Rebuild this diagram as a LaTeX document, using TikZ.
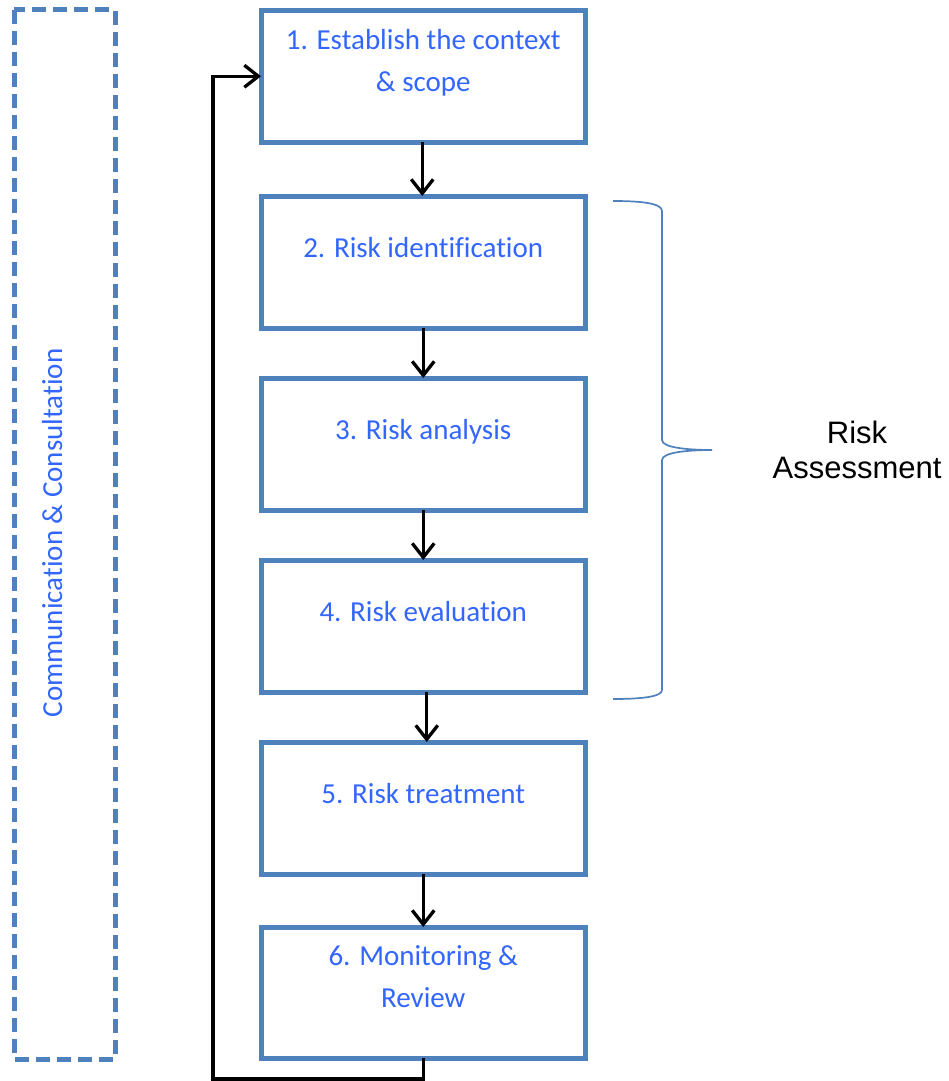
\documentclass[tikz,border=0pt]{standalone}
\usepackage{fontspec}
\setmainfont{Carlito}[Ligatures=NoCommon]
\newfontfamily\arialfont{Liberation Sans}
\usetikzlibrary{arrows.meta}
\definecolor{boxblue}{RGB}{79,129,189}
\definecolor{txtblue}{RGB}{51,102,255}
\tikzset{
  stepbox/.style={draw=boxblue, line width=5pt, fill=white, rectangle, minimum width=324.5pt, inner sep=0pt, outer sep=0pt},
  steptext/.style={anchor=base, text=txtblue, inner sep=0pt, font=\fontsize{29}{42}\selectfont},
  arr/.style={line width=3.3pt, -{Straight Barb[length=14pt,width=22pt,line width=3.3pt]}},
  commbox/.style={draw=boxblue, line width=5pt, dash pattern=on 14pt off 7pt},
  bracepath/.style={draw=boxblue, line width=1.7pt},
}
\begin{document}
\begin{tikzpicture}[x=1pt,y=-1pt]
\useasboundingbox[fill=white] (0,0) rectangle (949,1081);

% communication & consultation dashed frame
\draw[commbox] (14,10) rectangle (115,1059);
\node[steptext, rotate=90] (comm) at (62,533) {Communication \& Consultation};

% step boxes
\node[stepbox, minimum height=131.5pt] (b1) at (423.25,76.25) {};
\node[stepbox, minimum height=132pt] (b2) at (423.25,262) {};
\node[stepbox, minimum height=132pt] (b3) at (423.25,444) {};
\node[stepbox, minimum height=132pt] (b4) at (423.25,626) {};
\node[stepbox, minimum height=132pt] (b5) at (423.25,808) {};
\node[stepbox, minimum height=131pt] (b6) at (423.25,992.5) {};

% step texts
\node[steptext] (t1) at (423.25,50) {\begin{tabular}[t]{@{}c@{}}1. Establish the context\\ \& scope\end{tabular}};
\node[steptext] (t2) at (423.25,257) {2. Risk identification};
\node[steptext] (t3) at (423.25,439) {3. Risk analysis};
\node[steptext] (t4) at (423.25,621) {4. Risk evaluation};
\node[steptext] (t5) at (423.25,803) {5. Risk treatment};
\node[steptext] (t6) at (423.25,965) {\begin{tabular}[t]{@{}c@{}}6. Monitoring \&\\ Review\end{tabular}};

% arrows
\draw[arr] ([xshift=-1pt]b1.south) -- ([xshift=-1pt]b2.north);
\draw[arr] (b2.south) -- (b3.north);
\draw[arr] (b3.south) -- (b4.north);
\draw[arr] ([xshift=3.5pt]b4.south) -- ([xshift=3.5pt]b5.north);
\draw[arr] (b5.south) -- (b6.north);

% feedback loop
\coordinate (lp) at (213,1079);
\draw[arr] (b6.south) |- (lp) |- (b1.west);

% brace
\draw[bracepath] (613,201) .. controls (640,201) and (662,203) .. (662,211)
  -- (662,440) .. controls (662,448) and (690,450) .. (712,450)
  .. controls (690,450) and (662,452) .. (662,460)
  -- (662,690) .. controls (662,697) and (640,699) .. (613,699);

\node[align=center, font=\arialfont\fontsize{31}{35}\selectfont, inner sep=0pt] (ra) at (857,450) {Risk\\Assessment};
\end{tikzpicture}
\end{document}
